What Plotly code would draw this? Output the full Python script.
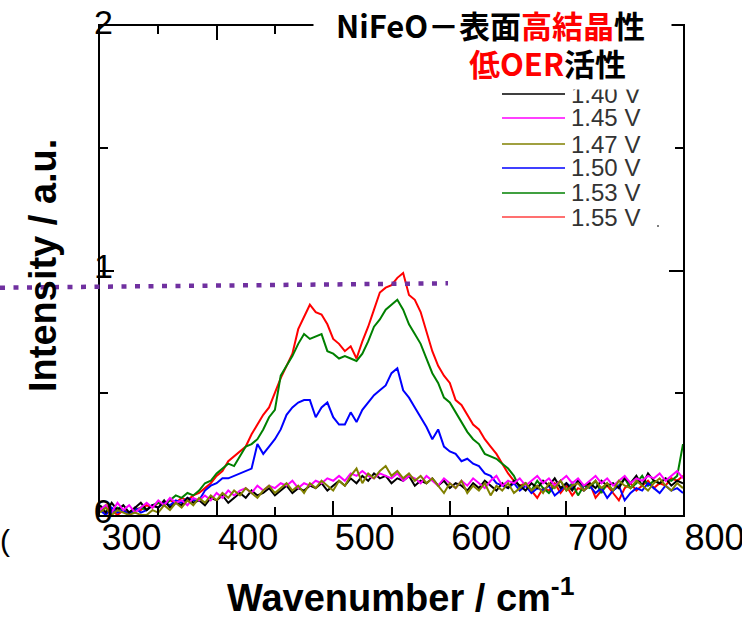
import plotly.graph_objects as go

wavenumber = list(range(300, 801, 5))

i_140 = [0.04,0.01,0.05,0.02,0.04,0.01,0.03,0.05,0.02,0.04,0.03,0.06,0.03,0.05,0.04,0.07,0.05,0.06,0.04,0.07,
         0.06,0.08,0.05,0.07,0.09,0.07,0.10,0.08,0.09,0.11,0.08,0.10,0.12,0.09,0.11,0.10,0.12,0.11,0.13,0.10,
         0.12,0.14,0.12,0.15,0.13,0.16,0.14,0.17,0.15,0.16,0.13,0.15,0.14,0.16,0.12,0.14,0.13,0.15,0.12,0.14,
         0.11,0.13,0.12,0.10,0.13,0.11,0.14,0.12,0.10,0.13,0.11,0.14,0.12,0.10,0.13,0.11,0.14,0.12,0.15,0.11,
         0.13,0.10,0.14,0.12,0.13,0.11,0.14,0.12,0.13,0.11,0.15,0.13,0.16,0.12,0.17,0.14,0.13,0.15,0.12,0.14,0.13]
i_145 = [0.02,0.04,0.01,0.05,0.02,0.04,0.01,0.03,0.05,0.03,0.06,0.04,0.07,0.05,0.06,0.04,0.07,0.06,0.08,0.06,
         0.09,0.07,0.10,0.08,0.10,0.11,0.09,0.12,0.10,0.12,0.11,0.13,0.12,0.14,0.11,0.13,0.12,0.14,0.13,0.15,
         0.14,0.16,0.14,0.17,0.16,0.18,0.16,0.15,0.17,0.16,0.15,0.17,0.14,0.16,0.15,0.13,0.16,0.14,0.12,0.15,
         0.13,0.11,0.14,0.12,0.15,0.13,0.11,0.14,0.16,0.12,0.14,0.13,0.15,0.12,0.14,0.16,0.13,0.15,0.12,0.14,
         0.16,0.13,0.15,0.12,0.14,0.16,0.13,0.15,0.12,0.14,0.16,0.13,0.15,0.14,0.16,0.15,0.17,0.14,0.16,0.18,0.15]
i_147 = [0.01,0.03,0.00,0.02,0.01,0.00,0.01,0.00,0.00,0.02,0.01,0.04,0.02,0.05,0.03,0.06,0.04,0.07,0.05,0.08,
         0.06,0.09,0.07,0.10,0.08,0.11,0.09,0.07,0.10,0.12,0.09,0.11,0.13,0.10,0.12,0.09,0.13,0.11,0.14,0.12,
         0.10,0.14,0.12,0.16,0.19,0.13,0.17,0.15,0.18,0.20,0.16,0.18,0.15,0.17,0.14,0.16,0.13,0.15,0.12,0.09,
         0.13,0.11,0.14,0.09,0.12,0.10,0.13,0.08,0.12,0.10,0.13,0.09,0.11,0.13,0.10,0.12,0.09,0.13,0.11,0.14,
         0.10,0.12,0.13,0.10,0.12,0.14,0.11,0.13,0.10,0.14,0.12,0.11,0.14,0.12,0.10,0.13,0.15,0.12,0.10,0.13,0.11]
i_150 = [0.02,0.00,0.03,0.01,0.02,0.00,0.03,0.01,0.02,0.04,0.03,0.05,0.04,0.06,0.05,0.07,0.06,0.06,0.10,0.12,
         0.13,0.15,0.15,0.16,0.17,0.18,0.19,0.29,0.25,0.28,0.31,0.35,0.41,0.44,0.46,0.47,0.47,0.40,0.44,0.46,
         0.40,0.37,0.37,0.42,0.38,0.43,0.46,0.49,0.51,0.53,0.58,0.60,0.51,0.48,0.44,0.40,0.36,0.31,0.35,0.28,
         0.26,0.25,0.22,0.23,0.21,0.20,0.17,0.16,0.13,0.12,0.11,0.13,0.10,0.12,0.09,0.11,0.10,0.12,0.08,0.10,
         0.13,0.11,0.14,0.10,0.12,0.09,0.11,0.07,0.10,0.12,0.06,0.09,0.11,0.10,0.13,0.11,0.09,0.12,0.10,0.11,0.09]
i_153 = [0.02,0.04,0.01,0.03,0.02,0.00,0.02,0.03,0.02,0.04,0.05,0.04,0.06,0.08,0.07,0.09,0.08,0.10,0.13,0.14,
         0.17,0.19,0.21,0.20,0.24,0.28,0.29,0.31,0.35,0.40,0.43,0.57,0.61,0.65,0.70,0.74,0.72,0.73,0.74,0.67,
         0.66,0.64,0.65,0.64,0.63,0.66,0.71,0.77,0.80,0.84,0.86,0.88,0.84,0.78,0.74,0.70,0.64,0.58,0.54,0.48,
         0.46,0.42,0.38,0.34,0.31,0.29,0.25,0.24,0.23,0.21,0.19,0.16,0.11,0.13,0.10,0.14,0.11,0.09,0.12,0.14,
         0.10,0.13,0.08,0.12,0.11,0.14,0.09,0.13,0.10,0.12,0.15,0.11,0.13,0.16,0.12,0.14,0.13,0.15,0.14,0.16,0.29]
i_155 = [0.03,0.01,0.02,0.00,0.02,0.01,0.03,0.02,0.04,0.03,0.05,0.04,0.06,0.05,0.07,0.06,0.08,0.09,0.11,0.13,
         0.16,0.18,0.22,0.24,0.26,0.28,0.33,0.37,0.41,0.44,0.50,0.56,0.61,0.66,0.76,0.81,0.86,0.83,0.82,0.78,
         0.72,0.70,0.67,0.69,0.64,0.71,0.77,0.84,0.91,0.93,0.94,0.97,0.99,0.90,0.88,0.83,0.75,0.67,0.61,0.57,
         0.54,0.47,0.45,0.41,0.37,0.35,0.31,0.28,0.25,0.21,0.17,0.14,0.12,0.13,0.10,0.07,0.11,0.10,0.13,0.09,
         0.12,0.08,0.11,0.10,0.13,0.07,0.10,0.12,0.09,0.06,0.11,0.13,0.10,0.12,0.14,0.11,0.13,0.12,0.15,0.14,0.16]

series_names = ["1.40 V", "1.45 V", "1.47 V", "1.50 V", "1.53 V", "1.55 V"]
series_values = [i_140, i_145, i_147, i_150, i_153, i_155]
series_colors = ["#000000", "#ff00ff", "#808000", "#0000ff", "#008000", "#ff0000"]
legend_colors = ["#000000", "#ff00ff", "#808000", "#0000ff", "#008000", "#ff4040"]
draw_order = [5, 4, 3, 0, 1, 2]

x_ticks = [300, 400, 500, 600, 700, 800]
y_ticks = [0, 1, 2]

# plot area in pixels
L, R, T, B = 100, 683, 26, 515
W, H = 742, 620
def px(x):
    return (x - L) / (R - L)
def py(y):
    return (B - y) / (B - T)

fig = go.Figure()
for k in draw_order:
    fig.add_trace(go.Scatter(x=wavenumber, y=series_values[k], mode="lines",
                             line=dict(color=series_colors[k], width=2),
                             name=series_names[k], showlegend=False))

axis_font = dict(family="Arial, Liberation Sans", color="#000000")
fig.update_xaxes(range=[300, 800], tickvals=x_ticks, ticktext=[str(v) for v in x_ticks],
                 ticks="inside", ticklen=14, tickwidth=1.5, tickcolor="#000",
                 minor=dict(dtick=50, ticks="inside", ticklen=8, tickwidth=1.5, tickcolor="#000", showgrid=False),
                 showline=True, linecolor="#000", linewidth=1.5, mirror="ticks",
                 showgrid=False, zeroline=False, automargin=False,
                 ticklabelposition="outside right", ticklabeloverflow="allow",
                 ticklabelstandoff=-10,
                 tickfont=dict(size=36, **axis_font))
fig.update_yaxes(range=[0, 2], tickvals=y_ticks, ticktext=[str(v) for v in y_ticks],
                 ticks="inside", ticklen=14, tickwidth=1.5, tickcolor="#000",
                 minor=dict(dtick=0.5, ticks="inside", ticklen=8, tickwidth=1.5, tickcolor="#000", showgrid=False),
                 showline=True, linecolor="#000", linewidth=1.5, mirror="ticks",
                 showgrid=False, zeroline=False, automargin=False,
                 ticklabelposition="inside", ticklabeloverflow="allow",
                 ticklabelstandoff=-16, ticklabelshift=-4,
                 tickfont=dict(size=34, **axis_font))

shapes = []
annotations = []

# legend drawn manually
legend_y = [94, 118, 144, 168, 193, 217]
for k in range(6):
    shapes.append(dict(type="line", xref="paper", yref="paper",
                       x0=px(502), x1=px(565), y0=py(legend_y[k]), y1=py(legend_y[k]),
                       line=dict(color=legend_colors[k], width=1.5)))
    annotations.append(dict(text=series_names[k], xref="paper", yref="paper",
                            x=px(569), y=py(legend_y[k]), xanchor="left", yanchor="middle",
                            showarrow=False, font=dict(size=24, family="Arial, Liberation Sans", color="#333333")))

# white cover behind the heading
annotations.append(dict(text=" ", xref="paper", yref="paper", x=px(492.5), y=py(45),
                        xanchor="center", yanchor="middle", width=357, height=88,
                        bgcolor="#ffffff", showarrow=False, borderpad=0))

cjk = "Noto Sans CJK JP"
annotations.append(dict(text="<b>NiFeO－表面<span style='color:#ff0000'>高結晶</span>性</b>",
                        xref="paper", yref="paper", x=px(490), y=py(25), xanchor="center", yanchor="middle",
                        showarrow=False, font=dict(size=31, family=cjk, color="#000")))
annotations.append(dict(text="<b><span style='color:#ff0000'>低OER</span>活性</b>",
                        xref="paper", yref="paper", x=px(547.5), y=py(63), xanchor="center", yanchor="middle",
                        showarrow=False, font=dict(size=31, family=cjk, color="#000")))

# axis titles
annotations.append(dict(text="<b>Wavenumber / cm<sup>-1</sup></b>", xref="paper", yref="paper",
                        x=px(401), y=py(595), xanchor="center", yanchor="middle", showarrow=False,
                        font=dict(size=38, family="Arial, Liberation Sans", color="#000")))
annotations.append(dict(text="<b>Intensity / a.u.</b>", xref="paper", yref="paper",
                        x=px(43), y=py(266), xanchor="center", yanchor="middle", textangle=-90,
                        showarrow=False, font=dict(size=38, family="Arial, Liberation Sans", color="#000")))

# stray glyph at the left edge
annotations.append(dict(text="(", xref="paper", yref="paper", x=px(-2), y=py(540),
                        xanchor="left", yanchor="middle", showarrow=False,
                        font=dict(size=30, family="Arial, Liberation Sans", color="#000")))

# purple dotted guide line
shapes.append(dict(type="line", xref="paper", yref="paper",
                   x0=px(0), y0=py(287.7), x1=px(448), y1=py(283.3),
                   line=dict(color="#7030a0", width=4.5, dash="5px,8.5px")))
# tiny dot
shapes.append(dict(type="circle", xref="paper", yref="paper",
                   x0=px(657), x1=px(659), y0=py(227), y1=py(225),
                   fillcolor="#555", line=dict(width=0)))

fig.update_layout(width=W, height=H, margin=dict(l=L, r=W - R, t=T, b=H - B, autoexpand=False),
                  paper_bgcolor="#ffffff", plot_bgcolor="#ffffff",
                  shapes=shapes, annotations=annotations, showlegend=False)

fig.write_html("out.html")
